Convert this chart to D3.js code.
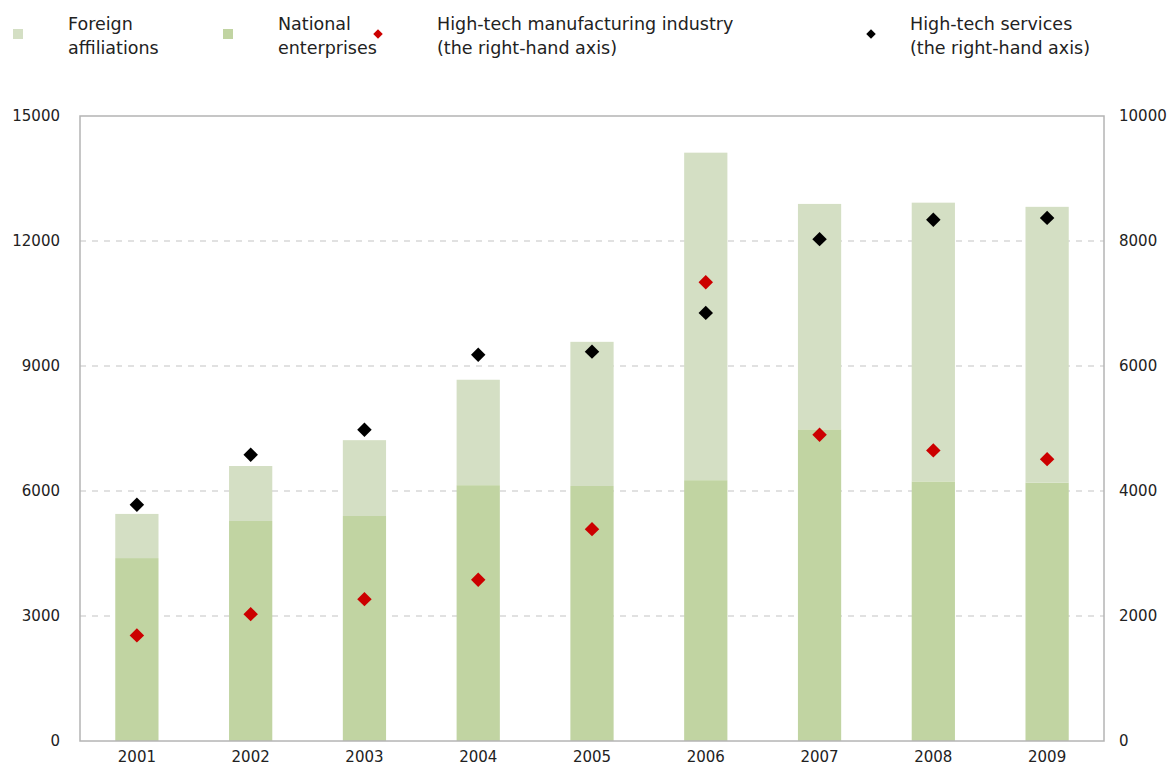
<!DOCTYPE html>
<html><head><meta charset="utf-8">
<script src="https://cdn.jsdelivr.net/npm/d3@7"></script>
<style>body{margin:0;background:#fff}</style>
</head><body><svg id="c" width="1172" height="772"></svg>
<script>
const years = ["2001","2002","2003","2004","2005","2006","2007","2008","2009"];
const national = [4390, 5280, 5400, 6140, 6120, 6260, 7480, 6230, 6200];
const foreign = [1060, 1320, 1820, 2530, 3460, 7860, 5410, 6690, 6620];
const manufacturing = [1690, 2030, 2270, 2580, 3390, 7340, 4900, 4650, 4510];
const services = [3780, 4580, 4980, 6180, 6230, 6850, 8030, 8340, 8370];
const leftTicks = [0, 3000, 6000, 9000, 12000, 15000];
const rightTicks = [0, 2000, 4000, 6000, 8000, 10000];

const colForeign = "#d4dfc4", colNational = "#c1d4a2", colRed = "#cc0000", colBlack = "#000";
const font = "DejaVu Sans";
const svg = d3.select("#c");
const L = 80, R = 1104, T = 116, B = 741;

const x = d3.scaleBand().domain(years).range([L, R]).paddingInner(0.62).paddingOuter(0.31);
const yL = d3.scaleLinear().domain([0, 15000]).range([B, T]);
const yR = d3.scaleLinear().domain([0, 10000]).range([B, T]);

// grid
svg.append("g").selectAll("line").data(leftTicks.filter(d => d > 0 && d < 15000)).join("line")
  .attr("x1", L).attr("x2", R).attr("y1", d => yL(d)).attr("y2", d => yL(d))
  .attr("stroke", "#c4c4c4").attr("stroke-width", 1.2).attr("stroke-dasharray", "6,6");

// bars
const stack = years.map((y, i) => ({y, n: national[i], f: foreign[i]}));
svg.append("g").selectAll("rect.n").data(stack).join("rect")
  .attr("x", d => x(d.y)).attr("width", x.bandwidth())
  .attr("y", d => yL(d.n)).attr("height", d => yL(0) - yL(d.n)).attr("fill", colNational);
svg.append("g").selectAll("rect.f").data(stack).join("rect")
  .attr("x", d => x(d.y)).attr("width", x.bandwidth())
  .attr("y", d => yL(d.n + d.f)).attr("height", d => yL(d.n) - yL(d.n + d.f)).attr("fill", colForeign);

// frame
svg.append("rect").attr("x", L).attr("y", T).attr("width", R - L).attr("height", B - T)
  .attr("fill", "none").attr("stroke", "#b4b4b4").attr("stroke-width", 1.5);

// axes
const axL = svg.append("g").attr("transform", `translate(${L},0)`)
  .call(d3.axisLeft(yL).tickValues(leftTicks).tickSize(0).tickPadding(20).tickFormat(d3.format("d")));
const axR = svg.append("g").attr("transform", `translate(${R},0)`)
  .call(d3.axisRight(yR).tickValues(rightTicks).tickSize(0).tickPadding(15).tickFormat(d3.format("d")));
const axB = svg.append("g").attr("transform", `translate(0,${B})`)
  .call(d3.axisBottom(x).tickSize(0).tickPadding(10));
[axL, axR, axB].forEach(a => {
  a.select(".domain").remove();
  a.selectAll("text").attr("font-family", font).attr("font-size", 15).attr("fill", "#222");
});

// diamonds
const diamond = d3.symbol().type(d3.symbolSquare).size(105);
function pts(data, col) {
  svg.append("g").selectAll("path").data(data).join("path")
    .attr("d", diamond)
    .attr("transform", (d, i) => `translate(${x(years[i]) + x.bandwidth()/2},${yR(d)}) rotate(45)`)
    .attr("fill", col);
}
pts(manufacturing, colRed);
pts(services, colBlack);

// legend
const leg = svg.append("g").attr("font-family", font).attr("font-size", 17.5).attr("fill", "#222");
const items = [
  {mx: 18, tx: 68, kind: "sq", col: colForeign, lines: ["Foreign", "affiliations"]},
  {mx: 228, tx: 278, kind: "sq", col: colNational, lines: ["National", "enterprises"]},
  {mx: 378, tx: 437, kind: "dm", col: colRed, lines: ["High-tech manufacturing industry", "(the right-hand axis)"]},
  {mx: 871, tx: 910, kind: "dm", col: colBlack, lines: ["High-tech services", "(the right-hand axis)"]}
];
items.forEach(it => {
  if (it.kind === "sq") {
    leg.append("rect").attr("x", it.mx - 5).attr("y", 29).attr("width", 10).attr("height", 10).attr("fill", it.col);
  } else {
    leg.append("path").attr("d", d3.symbol().type(d3.symbolSquare).size(45))
      .attr("transform", `translate(${it.mx},34) rotate(45)`).attr("fill", it.col);
  }
  it.lines.forEach((l, j) => leg.append("text").attr("x", it.tx).attr("y", 30 + j * 24).text(l));
});
</script></body></html>
